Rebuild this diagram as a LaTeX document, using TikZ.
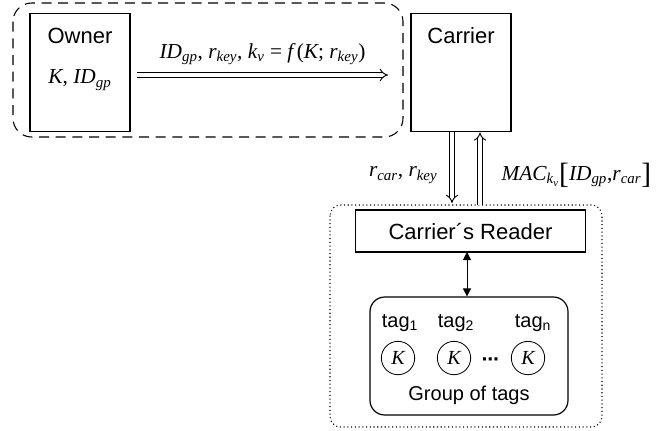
\documentclass[tikz,border=0pt]{standalone}
\usepackage{fontspec}
\setsansfont{Liberation Sans}
\newfontfamily\tnr{Liberation Serif}
\newcommand\up[1]{{\upshape #1}}
\newcommand\sub[1]{\textsubscript{#1}}
\usetikzlibrary{arrows.meta}

\begin{document}
\begin{tikzpicture}[x=0.75pt,y=-0.75pt,
    box/.style={draw,line width=0.9pt,inner sep=0pt},
    big/.style={font=\sffamily\fontsize{16.5}{18}\selectfont},
    small/.style={font=\sffamily\fontsize{15}{17}\selectfont},
    msg/.style={font=\tnr\itshape\fontsize{16}{18}\selectfont,inner sep=1pt},
    pipe/.style={double,double distance=2.5pt,line width=0.7pt,-{Implies}},
    tag/.style={circle,draw,line width=0.6pt,minimum size=25pt,inner sep=0pt,
      font=\tnr\itshape\fontsize{15}{17}\selectfont}]
 \useasboundingbox (0,0) rectangle (659,430);
 % owner and carrier
 \draw[line width=0.8pt,dash pattern=on 7.5pt off 5pt,rounded corners=14pt]
   (13,3) rectangle (403,137);
 \node[box,minimum width=75pt,minimum height=89pt] (owner) at (80,72.5) {};
 \node[big] (owner-t) at (80,36) {Owner};
 \node[msg] (owner-k) at (80,80) {K\up{,} ID\sub{gp}};
 \node[box,minimum width=75pt,minimum height=89pt] (carrier) at (461,72.5) {};
 \node[big] (carrier-t) at (461,36) {Carrier};
 \draw[pipe] (137,75) -- (388,75)
   node[midway,above=6pt,msg] {ID\sub{gp}\up{,}\ r\sub{key}\up{,}\ k\sub{v} \up{=} f\,\up{(}K\up{;}\ r\sub{key}\up{)}};
 % carrier -- reader
 \draw[dotted,line width=0.8pt,rounded corners=8pt] (330,205) rectangle (602,427);
 \node[box,minimum width=173pt,minimum height=31.5pt] (reader) at (470.5,231) {};
 \node[big] (reader-t) at (reader) {Carrier´s Reader};
 \coordinate (down-end) at (452,203);
 \coordinate (up-start) at (480,205);
 \draw[pipe] (carrier.south -| down-end) -- (down-end);
 \draw[pipe] (up-start) -- (carrier.south -| up-start);
 \node[msg,anchor=east] (down-l) at (439,175) {r\sub{car}\up{,}\ r\sub{key}};
 \node[msg,anchor=west] (up-l) at (500,175)
   {MAC\sub{k\sub{v}}\raisebox{-2pt}{\up{\fontsize{22}{22}\selectfont[}}ID\sub{gp}\up{,}r\sub{car}\raisebox{-2pt}{\up{\fontsize{22}{22}\selectfont]}}};
 % group of tags
 \node[box,rounded corners=11pt,minimum width=148.5pt,minimum height=88.5pt] (group) at (469,356) {};
 \coordinate (link) at (467,252);
 \draw[line width=0.6pt,{Triangle[length=6pt,width=6pt]}-{Triangle[length=6pt,width=6pt]}]
   (link) -- (link |- group.north);
 \foreach \x/\cx/\n in {400/398/1,456/454/2,533/528/n}
 {\node[small] (tag-\n) at (\x,323) {tag\sub{\n}};
  \node[tag] (k-\n) at (\cx,358) {K};}
 \node[font=\sffamily\bfseries\fontsize{16}{18}\selectfont] (dots) at (491,362) {·\kern-1pt·\kern-1pt·};
 \node[small] (group-t) at (469,395) {Group of tags};
\end{tikzpicture}
\end{document}
